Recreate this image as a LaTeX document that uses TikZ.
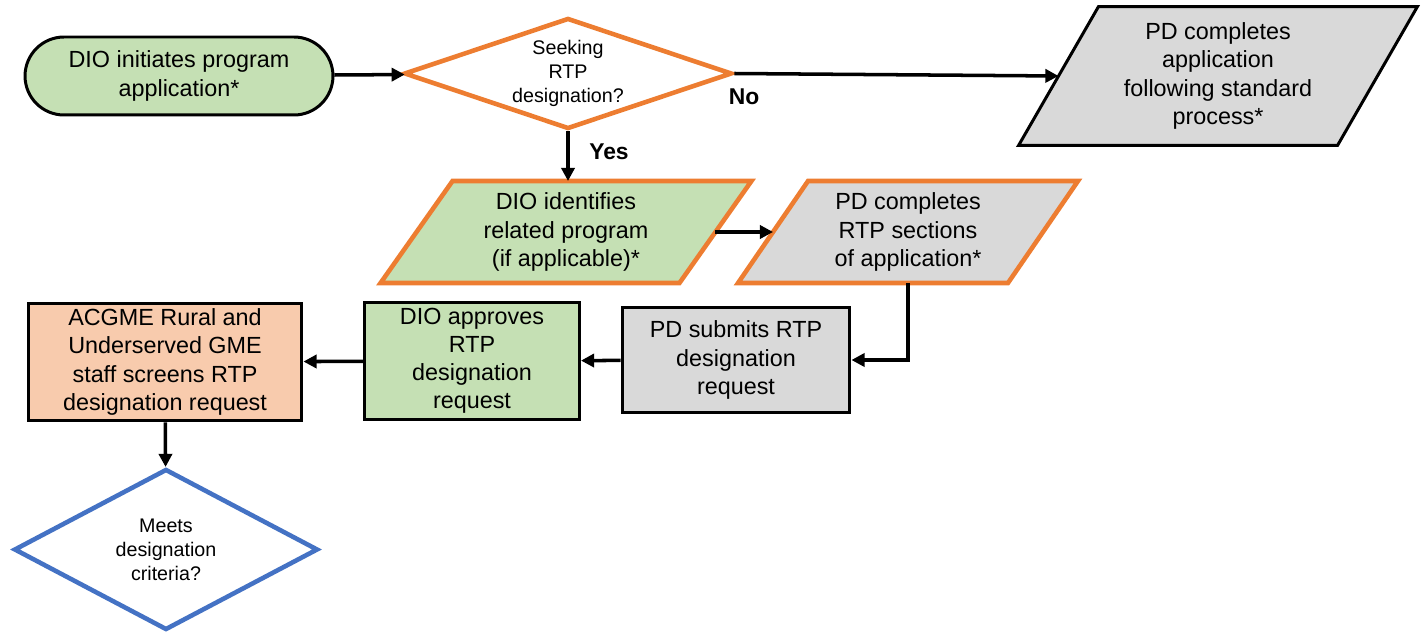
\documentclass[tikz,border=0pt]{standalone}
\usepackage{fontspec}
\setmainfont{Liberation Sans}
\usetikzlibrary{shapes.geometric,arrows.meta,backgrounds}
\definecolor{boxgreen}{HTML}{C5E0B4}
\definecolor{boxgray}{HTML}{D9D9D9}
\definecolor{boxpeach}{HTML}{F8CBAD}
\definecolor{lineorange}{HTML}{ED7D31}
\definecolor{lineblue}{HTML}{4472C4}
\tikzset{
  txt/.style={font=\fontsize{13.3}{16}\selectfont, align=center, inner sep=0pt},
  small/.style={font=\fontsize{11.2}{13.6}\selectfont, align=center, inner sep=0pt},
  procbox/.style={txt, draw=black, line width=1.7pt, rectangle},
  decision/.style={small, diamond, draw=#1, line width=2.6pt, fill=white},
  iobox/.style={txt, rectangle, outer sep=0pt},
  flow/.style={-{Triangle[length=7.5pt,width=7.5pt]}, line width=2pt},
  lbl/.style={font=\fontsize{13}{15}\selectfont\bfseries, inner sep=0pt}
}
% slanted outline behind an iobox node: node, half slant, border, fill, width
\newcommand{\ioshape}[5]{%
  \begin{pgfonlayer}{background}
  \draw[line width=#5, draw=#3, fill=#4] ([xshift=-#2]#1.south west) -- ([xshift=-#2]#1.south east)
    -- ([xshift=#2]#1.north east) -- ([xshift=#2]#1.north west) -- cycle;
  \end{pgfonlayer}}
\begin{document}
\begin{tikzpicture}[x=0.02cm, y=-0.02cm]
\useasboundingbox (0,0) rectangle (1422,638);

% top row
\node[procbox, fill=boxgreen, rounded corners=0.78cm, minimum width=6.16cm, minimum height=1.56cm] (start) at (179,76) {DIO initiates program\\application*};
\node[decision=lineorange, shape aspect=3, minimum width=6.56cm, minimum height=2.22cm] (seek) at (568,73.5) {Seeking\\RTP\\designation?};
\node[iobox, minimum width=6.38cm, minimum height=2.78cm] (std) at (1218,76) {PD completes\\application\\following standard\\process*};
\ioshape{std}{0.8cm}{black}{boxgray}{1.7pt}

% middle row
\node[iobox, minimum width=5.98cm, minimum height=2.04cm] (ident) at (566,232) {DIO identifies\\related program\\(if applicable)*};
\ioshape{ident}{0.72cm}{lineorange}{boxgreen}{2.6pt}
\node[iobox, minimum width=5.4cm, minimum height=2.04cm] (rtpsec) at (908,232) {PD completes\\RTP sections\\of application*};
\ioshape{rtpsec}{0.7cm}{lineorange}{boxgray}{2.6pt}

% bottom row
\node[procbox, fill=boxgray, minimum width=4.56cm, minimum height=2.1cm] (submit) at (736,360) {PD submits RTP\\designation\\request};
\node[procbox, fill=boxgreen, minimum width=4.3cm, minimum height=2.36cm] (approve) at (472,361) {DIO approves\\RTP\\designation\\request};
\node[procbox, fill=boxpeach, minimum width=5.48cm, minimum height=2.36cm] (screen) at (165,362) {ACGME Rural and\\Underserved GME\\staff screens RTP\\designation request};
\node[decision=lineblue, shape aspect=1.9, minimum width=6.08cm, minimum height=3.22cm] (meets) at (166,549.5) {Meets\\designation\\criteria?};

% connectors
\draw[flow] (start) -- (seek);
\draw[flow] (seek.east) -- (std.west);
\node[lbl] (no) at (744,97) {No};
\draw[flow] (seek.south) -- (seek.south |- ident.north);
\node[lbl] (yes) at (609,152) {Yes};
\draw[flow] (ident.east) -- (rtpsec.west);
\draw[flow] (rtpsec.south) |- (submit.east);
\draw[flow] (submit) -- (approve);
\draw[flow] (approve) -- (screen);
\draw[flow] (screen) -- (meets);
\end{tikzpicture}
\end{document}
